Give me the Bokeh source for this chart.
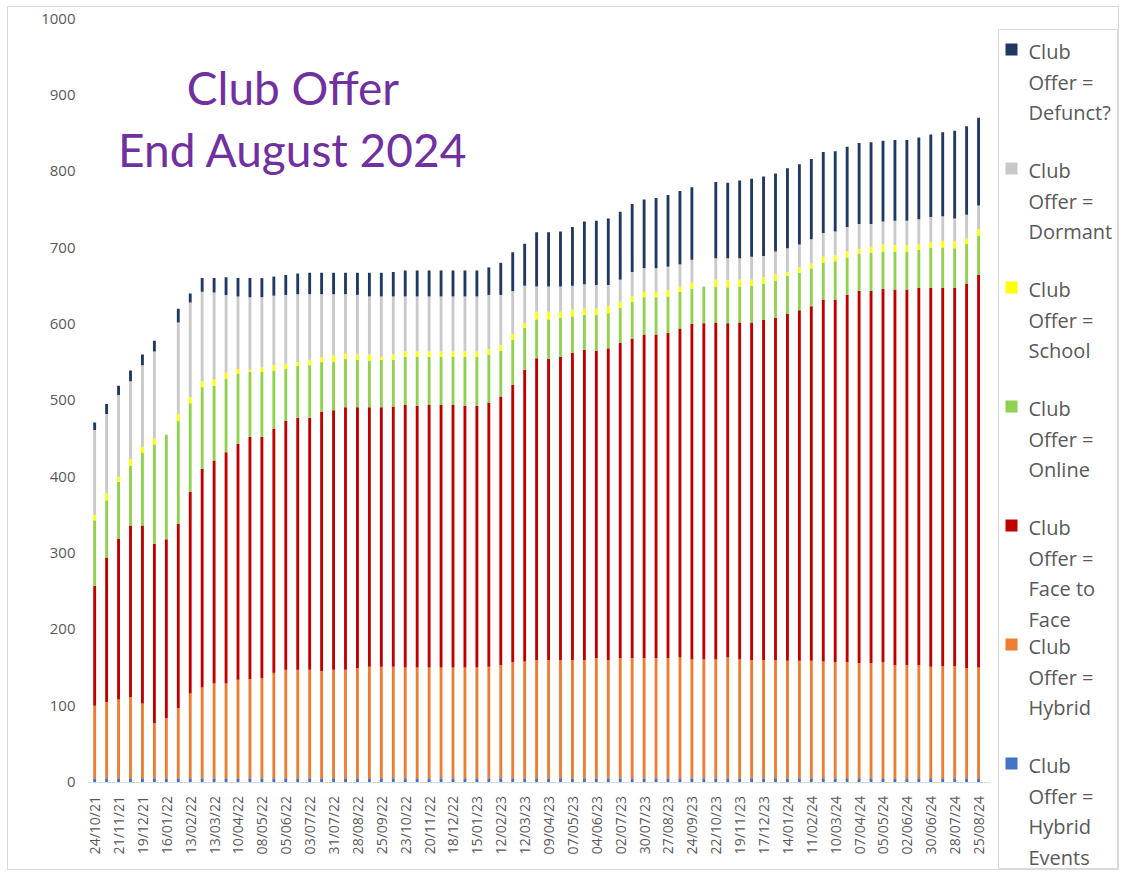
import numpy as np
from bokeh.plotting import figure
from bokeh.layouts import row
from bokeh.models import ColumnDataSource, Range1d, FixedTicker, Label
from bokeh.core.properties import value
from bokeh.embed import file_html
from bokeh.resources import INLINE

# ---- data (fortnightly snapshots) ----
tick_labels = ["24/10/21", "21/11/21", "19/12/21", "16/01/22", "13/02/22", "13/03/22",
               "10/04/22", "08/05/22", "05/06/22", "03/07/22", "31/07/22", "28/08/22",
               "25/09/22", "23/10/22", "20/11/22", "18/12/22", "15/01/23", "12/02/23",
               "12/03/23", "09/04/23", "07/05/23", "04/06/23", "02/07/23", "30/07/23",
               "27/08/23", "24/09/23", "22/10/23", "19/11/23", "17/12/23", "14/01/24",
               "11/02/24", "10/03/24", "07/04/24", "05/05/24", "02/06/24", "30/06/24",
               "28/07/24", "25/08/24"]

hybrid_events = [5] * 75

hybrid = [95, 100, 103, 106, 98, 72, 79, 92, 111, 119, 124, 124, 129, 130, 131, 138, 142, 142,
          142, 140, 142, 142, 144, 146, 146, 146, 145, 145, 145, 145, 145, 145, 145, 146, 148,
          152, 153, 155, 155, 155, 155, 155, 157, 155, 157, 157, 157, 157, 157, 158, 156, 156,
          156, 158, 156, 155, 155, 155, 154, 154, 154, 153, 152, 152, 151, 151, 152, 148, 148,
          148, 146, 147, 147, 144, 145]

face_to_face = [157, 189, 211, 225, 233, 235, 234, 241, 264, 286, 292, 303, 309, 317, 316, 320,
                326, 330, 330, 340, 340, 344, 342, 340, 340, 341, 344, 343, 344, 344, 344, 343,
                343, 346, 352, 363, 382, 395, 394, 397, 402, 406, 403, 408, 413, 419, 424, 424,
                426, 431, 439, 440, 441, 438, 441, 442, 445, 448, 454, 459, 464, 474, 475, 481,
                487, 487, 489, 492, 492, 494, 496, 495, 495, 504, 514]

online = [86, 75, 74, 78, 95, 130, 137, 135, 116, 107, 98, 96, 92, 85, 85, 76, 68, 68, 69, 65,
          63, 63, 62, 61, 62, 61, 63, 64, 63, 63, 63, 64, 64, 63, 60, 59, 55, 51, 52, 51, 48,
          46, 47, 46, 46, 48, 49, 49, 48, 48, 46, 48, 47, 47, 47, 48, 48, 49, 50, 49, 50, 48,
          50, 49, 49, 50, 49, 50, 50, 50, 53, 53, 52, 52, 51]

school = [7, 9, 7, 9, 8, 8, 0, 9, 8, 8, 9, 8, 6, 3, 6, 7, 7, 5, 7, 6, 9, 7, 7, 8, 4, 7, 7, 7, 7,
          7, 7, 7, 7, 7, 7, 8, 6, 10, 10, 8, 9, 8, 8, 9, 8, 7, 7, 7, 8, 7, 8, 0, 9, 9, 9, 8, 8,
          8, 5, 7, 6, 8, 8, 8, 6, 8, 9, 8, 8, 7, 7, 9, 9, 7, 9]

dormant = [111, 104, 107, 102, 107, 114, 0, 120, 124, 117, 113, 102, 95, 95, 92, 91, 90, 89, 86,
           83, 80, 78, 78, 76, 79, 76, 72, 72, 72, 72, 72, 72, 72, 71, 66, 56, 49, 33, 33, 33,
           31, 32, 31, 28, 29, 32, 31, 31, 31, 29, 30, 0, 28, 29, 28, 30, 28, 30, 31, 30, 32,
           31, 31, 32, 33, 30, 30, 32, 32, 33, 33, 32, 30, 31, 31]

defunct = [10, 13, 12, 14, 14, 14, 0, 18, 12, 18, 19, 23, 24, 25, 25, 25, 26, 27, 28, 28, 28,
           28, 29, 31, 31, 32, 34, 34, 34, 34, 34, 34, 34, 36, 42, 51, 55, 71, 71, 72, 77, 82,
           84, 87, 89, 89, 90, 92, 94, 96, 95, 0, 100, 99, 102, 102, 104, 102, 105, 105, 105,
           106, 105, 105, 106, 107, 106, 106, 106, 107, 108, 110, 115, 116, 115]

series_names = ["hybrid_events", "hybrid", "face_to_face", "online", "school", "dormant", "defunct"]
series_colors = ["#4472C4", "#ED7D31", "#C00000", "#92D050", "#FFFF00", "#C9C9C9", "#203864"]
legend_lines = [["Club", "Offer =", "Defunct?"],
                ["Club", "Offer =", "Dormant"],
                ["Club", "Offer =", "School"],
                ["Club", "Offer =", "Online"],
                ["Club", "Offer =", "Face to", "Face"],
                ["Club", "Offer =", "Hybrid"],
                ["Club", "Offer =", "Hybrid", "Events"]]
legend_colors = ["#203864", "#C9C9C9", "#FFFF00", "#92D050", "#C00000", "#ED7D31", "#4472C4"]

TXT = "#595959"
FONT = "Open Sans"

H = 862          # figure height (px)
TOP = 11         # frame top border (px)
n = len(hybrid)
source = ColumnDataSource(dict(
    x=list(range(n)),
    hybrid_events=hybrid_events, hybrid=hybrid, face_to_face=face_to_face,
    online=online, school=school, dormant=dormant, defunct=defunct,
))

# frame extends below the value axis so the rotated date labels sit inside it
p = figure(width=987, height=H, output_backend="svg", toolbar_location=None,
           x_range=Range1d(-0.6, 75.0), y_range=Range1d(-114.5, 1000),
           min_border_left=79, min_border_right=5, min_border_top=TOP, min_border_bottom=0)
p.outline_line_color = None
p.xgrid.grid_line_color = None
p.ygrid.grid_line_color = None

p.vbar_stack(series_names, x="x", width=0.24, color=series_colors, line_color=None,
             source=source)

# axes
p.yaxis.ticker = FixedTicker(ticks=list(range(0, 1001, 100)))
p.yaxis.axis_line_color = None
p.yaxis.major_tick_line_color = None
p.yaxis.major_tick_out = 0
p.yaxis.minor_tick_line_color = None
p.yaxis.major_label_text_color = TXT
p.yaxis.major_label_text_font = FONT
p.yaxis.major_label_text_font_size = "15px"
p.yaxis.major_label_standoff = 12

xt = list(range(0, n, 2))
p.xaxis.fixed_location = 0
p.xaxis.ticker = FixedTicker(ticks=xt)
p.xaxis.major_label_overrides = {t: lab for t, lab in zip(xt, tick_labels)}
p.xaxis.major_label_orientation = np.pi / 2
p.xaxis.axis_line_color = "#D9D9D9"
p.xaxis.major_tick_line_color = None
p.xaxis.major_tick_out = 0
p.xaxis.minor_tick_line_color = None
p.xaxis.major_label_text_color = TXT
p.xaxis.major_label_text_font = FONT
p.xaxis.major_label_text_font_size = "14px"
p.xaxis.major_label_standoff = 14

for txt, yv in [("Club Offer", 909), ("End August 2024", 829)]:
    p.add_layout(Label(x=16.6, y=yv, text=txt, text_align="center", text_baseline="middle",
                       text_color="#7030A0", text_font="Lato",
                       text_font_size="46px"))

# legend panel (its frame is aligned with the chart frame: TOP .. H, in pixels)
lg = figure(width=123, height=H, output_backend="svg", toolbar_location=None,
            x_range=Range1d(0, 123), y_range=Range1d(H, TOP),
            min_border_left=0, min_border_right=0, min_border_top=TOP, min_border_bottom=0)
lg.axis.visible = False
lg.grid.visible = False
lg.outline_line_color = None
lg.quad(left=[3], right=[122], top=[22], bottom=[H - 1], fill_color=None,
        line_color="#D9D9D9", line_width=1)

sq_x, sq_y, sq_c = [], [], []
tx, ty, tt = [], [], []
y0 = 44
for lines, col in zip(legend_lines, legend_colors):
    sq_x.append(16)
    sq_y.append(y0 - 2)
    sq_c.append(col)
    for k, ln in enumerate(lines):
        tx.append(33)
        ty.append(y0 + k * 30.5)
        tt.append(ln)
    y0 += 119
lg.rect(x=sq_x, y=sq_y, width=12, height=12, fill_color=sq_c, line_color=None)
lg.text(x=tx, y=ty, text=tt, text_font=value(FONT), text_font_size="20px",
        text_color=TXT, text_baseline="middle", text_align="left")

layout = row(p, lg, margin=(6, 0, 0, 7), styles={"border": "1px solid #D9D9D9"})
open("out.html", "w").write(file_html(layout, INLINE))
